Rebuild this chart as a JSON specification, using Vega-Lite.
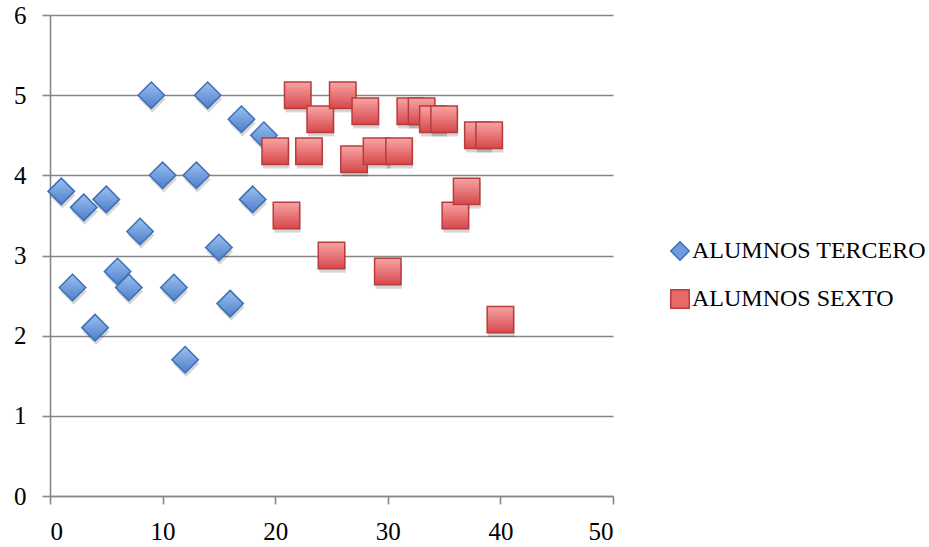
{
  "$schema": "https://vega.github.io/schema/vega-lite/v6.json",
  "width": 563,
  "height": 481,
  "autosize": {"type": "none"},
  "padding": {"left": 50, "top": 15, "right": 316, "bottom": 51},
  "background": "white",
  "config": {
    "view": {"stroke": null},
    "font": "Liberation Serif",
    "axis": {
      "domainColor": "#878787",
      "domainWidth": 1.6,
      "gridColor": "#878787",
      "gridWidth": 1.6,
      "tickColor": "#878787",
      "tickWidth": 1.6,
      "tickSize": 8,
      "labelFont": "Liberation Serif",
      "labelFontSize": 25,
      "labelColor": "#000000",
      "title": null
    }
  },
  "data": {
    "values": [
      {"serie": "ALUMNOS TERCERO", "x": 1, "y": 3.8},
      {"serie": "ALUMNOS TERCERO", "x": 2, "y": 2.6},
      {"serie": "ALUMNOS TERCERO", "x": 3, "y": 3.6},
      {"serie": "ALUMNOS TERCERO", "x": 4, "y": 2.1},
      {"serie": "ALUMNOS TERCERO", "x": 5, "y": 3.7},
      {"serie": "ALUMNOS TERCERO", "x": 6, "y": 2.8},
      {"serie": "ALUMNOS TERCERO", "x": 7, "y": 2.6},
      {"serie": "ALUMNOS TERCERO", "x": 8, "y": 3.3},
      {"serie": "ALUMNOS TERCERO", "x": 9, "y": 5.0},
      {"serie": "ALUMNOS TERCERO", "x": 10, "y": 4.0},
      {"serie": "ALUMNOS TERCERO", "x": 11, "y": 2.6},
      {"serie": "ALUMNOS TERCERO", "x": 12, "y": 1.7},
      {"serie": "ALUMNOS TERCERO", "x": 13, "y": 4.0},
      {"serie": "ALUMNOS TERCERO", "x": 14, "y": 5.0},
      {"serie": "ALUMNOS TERCERO", "x": 15, "y": 3.1},
      {"serie": "ALUMNOS TERCERO", "x": 16, "y": 2.4},
      {"serie": "ALUMNOS TERCERO", "x": 17, "y": 4.7},
      {"serie": "ALUMNOS TERCERO", "x": 18, "y": 3.7},
      {"serie": "ALUMNOS TERCERO", "x": 19, "y": 4.5},
      {"serie": "ALUMNOS SEXTO", "x": 20, "y": 4.3},
      {"serie": "ALUMNOS SEXTO", "x": 21, "y": 3.5},
      {"serie": "ALUMNOS SEXTO", "x": 22, "y": 5.0},
      {"serie": "ALUMNOS SEXTO", "x": 23, "y": 4.3},
      {"serie": "ALUMNOS SEXTO", "x": 24, "y": 4.7},
      {"serie": "ALUMNOS SEXTO", "x": 25, "y": 3.0},
      {"serie": "ALUMNOS SEXTO", "x": 26, "y": 5.0},
      {"serie": "ALUMNOS SEXTO", "x": 27, "y": 4.2},
      {"serie": "ALUMNOS SEXTO", "x": 28, "y": 4.8},
      {"serie": "ALUMNOS SEXTO", "x": 29, "y": 4.3},
      {"serie": "ALUMNOS SEXTO", "x": 30, "y": 2.8},
      {"serie": "ALUMNOS SEXTO", "x": 31, "y": 4.3},
      {"serie": "ALUMNOS SEXTO", "x": 32, "y": 4.8},
      {"serie": "ALUMNOS SEXTO", "x": 33, "y": 4.8},
      {"serie": "ALUMNOS SEXTO", "x": 34, "y": 4.7},
      {"serie": "ALUMNOS SEXTO", "x": 35, "y": 4.7},
      {"serie": "ALUMNOS SEXTO", "x": 36, "y": 3.5},
      {"serie": "ALUMNOS SEXTO", "x": 37, "y": 3.8},
      {"serie": "ALUMNOS SEXTO", "x": 38, "y": 4.5},
      {"serie": "ALUMNOS SEXTO", "x": 39, "y": 4.5},
      {"serie": "ALUMNOS SEXTO", "x": 40, "y": 2.2}
    ]
  },
  "encoding": {
    "x": {
      "field": "x",
      "type": "quantitative",
      "scale": {"domain": [0, 50], "nice": false, "zero": true},
      "axis": {"values": [0, 10, 20, 30, 40, 50], "grid": false, "labelPadding": 15}
    },
    "y": {
      "field": "y",
      "type": "quantitative",
      "scale": {"domain": [0, 6], "nice": false},
      "axis": {"values": [0, 1, 2, 3, 4, 5, 6], "grid": true, "labelPadding": 16}
    }
  },
  "layer": [
    {
      "transform": [{"filter": "datum.serie === 'ALUMNOS TERCERO'"}],
      "mark": {"type": "point", "shape": "diamond", "filled": true, "size": 700, "fill": "#000000", "opacity": 0.16, "yOffset": 4, "xOffset": 1},
      "encoding": {}
    },
    {
      "transform": [{"filter": "datum.serie === 'ALUMNOS TERCERO'"}],
      "mark": {
        "type": "point", "shape": "diamond", "filled": true, "size": 700, "opacity": 1,
        "stroke": "#3d6fb5", "strokeWidth": 1.5,
        "fill": {"gradient": "linear", "x1": 0, "y1": 0, "x2": 0, "y2": 1, "stops": [{"offset": 0, "color": "#9dc0ef"}, {"offset": 1, "color": "#4c7fcb"}]}
      },
      "encoding": {}
    },
    {
      "transform": [{"filter": "datum.serie === 'ALUMNOS SEXTO'"}],
      "mark": {"type": "point", "shape": "square", "filled": true, "size": 700, "fill": "#000000", "opacity": 0.16, "yOffset": 4, "xOffset": 1},
      "encoding": {}
    },
    {
      "transform": [{"filter": "datum.serie === 'ALUMNOS SEXTO'"}],
      "mark": {
        "type": "point", "shape": "square", "filled": true, "size": 700, "opacity": 1,
        "stroke": "#b93c3c", "strokeWidth": 1.5,
        "fill": {"gradient": "linear", "x1": 0, "y1": 0, "x2": 0, "y2": 1, "stops": [{"offset": 0, "color": "#f7a5a5"}, {"offset": 1, "color": "#d7474a"}]}
      },
      "encoding": {}
    },
    {
      "mark": {"type": "point", "filled": true, "size": 700, "opacity": 0},
      "encoding": {
        "shape": {
          "field": "serie", "type": "nominal",
          "scale": {"domain": ["ALUMNOS TERCERO", "ALUMNOS SEXTO"], "range": ["diamond", "square"]},
          "legend": {
            "title": null,
            "orient": "none",
            "legendX": 618,
            "legendY": 224,
            "labelFontSize": 24,
            "labelFont": "Liberation Serif",
            "labelColor": "#000000",
            "labelLimit": 400,
            "symbolSize": 340,
            "symbolOpacity": 1,
            "symbolStrokeWidth": 1.5,
            "rowPadding": 22,
            "labelOffset": 0
          }
        },
        "fill": {
          "field": "serie", "type": "nominal",
          "scale": {"domain": ["ALUMNOS TERCERO", "ALUMNOS SEXTO"], "range": ["#6f9be0", "#e76a6a"]}
        },
        "stroke": {
          "field": "serie", "type": "nominal",
          "scale": {"domain": ["ALUMNOS TERCERO", "ALUMNOS SEXTO"], "range": ["#3d6fb5", "#b93c3c"]}
        }
      }
    }
  ]
}
